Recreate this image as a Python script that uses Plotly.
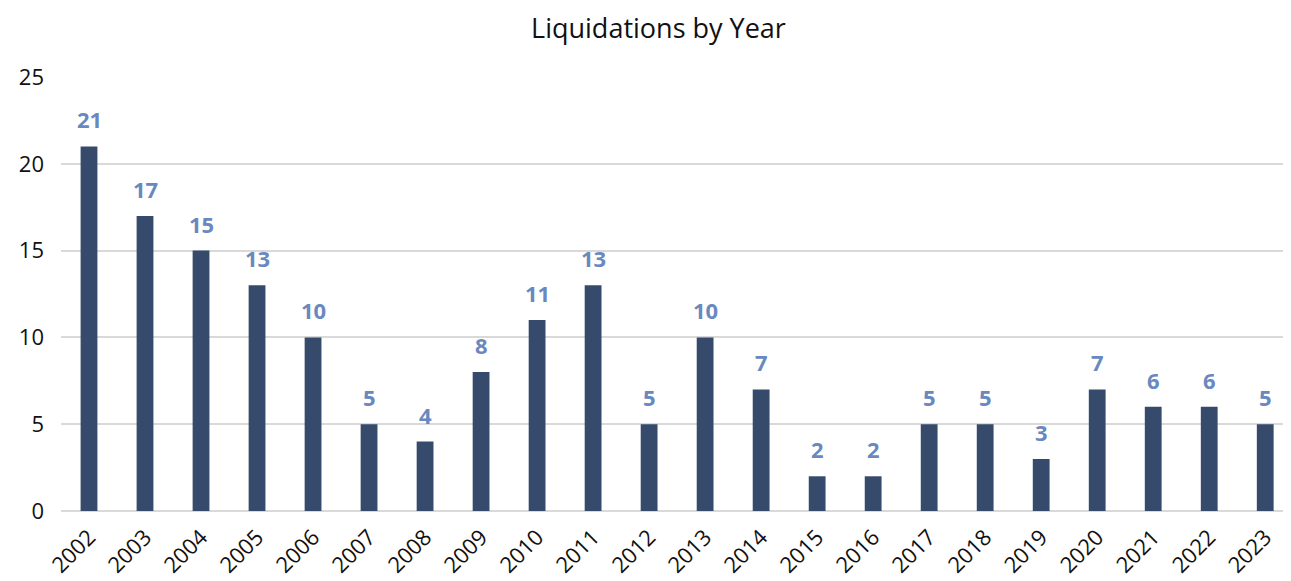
import plotly.graph_objects as go

years = [str(y) for y in range(2002, 2024)]
liquidations = [21, 17, 15, 13, 10, 5, 4, 8, 11, 13, 5, 10, 7, 2, 2, 5, 5, 3, 7, 6, 6, 5]

bar_color = "#364a6c"
label_color = "#6a88c0"
font_family = "'Open Sans', sans-serif"

idx = list(range(len(years)))

fig = go.Figure()
fig.add_trace(go.Bar(x=idx, y=liquidations, marker_color=bar_color,
                     marker_line_width=0, width=0.30,
                     customdata=years, hovertemplate="%{customdata}: %{y}<extra></extra>"))

for i, v in zip(idx, liquidations):
    fig.add_annotation(x=i, y=v, text=f"<b>{v}</b>", showarrow=False,
                       yanchor="bottom", yshift=10,
                       font=dict(size=22, color=label_color, family=font_family))

fig.update_layout(
    width=1283, height=573,
    margin=dict(l=53, r=0, t=69, b=70, autoexpand=False),
    paper_bgcolor="white", plot_bgcolor="white",
    title=dict(text="Liquidations by Year", x=0.507, xanchor="center", y=0.965, yanchor="middle",
               font=dict(size=27, color="#111111", family=font_family)),
    showlegend=False,
    xaxis=dict(range=[-0.5, 21.46], tickvals=idx, ticktext=years, tickangle=-45,
               tickfont=dict(size=22, color="#111111", family=font_family),
               showgrid=False, showline=False, zeroline=False, ticks="", automargin=False,
               ticklabelstandoff=8),
    yaxis=dict(range=[0, 25], tickvals=[0, 5, 10, 15, 20, 25],
               tickfont=dict(size=22, color="#111111", family=font_family),
               showgrid=True, gridcolor="#d9d9d9", gridwidth=1.5,
               zeroline=True, zerolinecolor="#d9d9d9", zerolinewidth=1.5,
               ticks="", ticklabelstandoff=16, automargin=False),
)

fig.write_html("out.html")
